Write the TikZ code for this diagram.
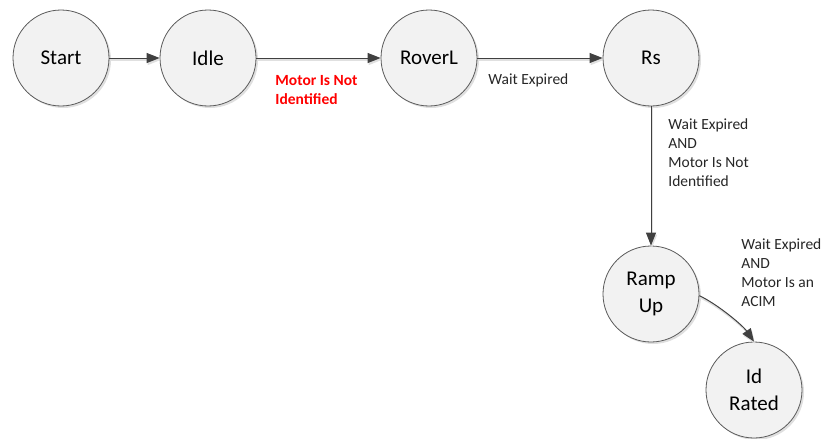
\documentclass[tikz,border=0pt]{standalone}
\usepackage{fontspec}
\setmainfont{Carlito}
\usetikzlibrary{arrows.meta,shadows}

\begin{document}
\begin{tikzpicture}[x=1pt, y=-1pt, thick,
  state/.style={circle, draw=black!65, line width=0.8pt, fill=black!5,
    minimum size=96pt, inner sep=0pt, align=center,
    font=\fontsize{21}{27}\selectfont,
    drop shadow={shadow xshift=2pt, shadow yshift=-2pt, opacity=0.25}},
  conn/.style={draw=black!75, line width=1pt, -{Triangle[length=13pt,width=10pt]},
    preaction={draw=black!12, line width=1.6pt, transform canvas={xshift=1pt, yshift=-2pt}}},
  lbl/.style={anchor=base west, inner sep=0pt, align=left,
    font=\fontsize{15.5}{19}\selectfont, text=black!85}]
  \useasboundingbox (0,0) rectangle (822,439);
  % states: one row, then down the right side
  \node[state] (Start)   at (61,58)   {Start};
  \node[state] (Idle)    at (208,58)  {Idle};
  \node[state] (RoverL)  at (429,58)  {RoverL};
  \node[state] (Rs)      at (651,58)  {Rs};
  \node[state] (RampUp)  at (651,294) {Ramp\\Up};
  \node[state] (IdRated) at (754,390) {Id\\Rated};
  % transitions
  \draw[conn] (Start) -- (Idle);
  \draw[conn] (Idle) -- (RoverL);
  \draw[conn] (RoverL) -- (Rs);
  \draw[conn] (Rs) -- (RampUp);
  \draw[conn] (RampUp.-2) .. controls +(18,8.5) and +(-11.5,-16.5) .. (IdRated.north);
  % conditions (base = last line)
  \node[lbl, text=red, font=\fontsize{15.5}{19}\selectfont\bfseries] (cIdle) at (275,104)
    {Motor Is Not\\Identified};
  \node[lbl] (cRoverL) at (488,84) {Wait Expired};
  \node[lbl] (cRs) at (668,186) {Wait Expired\\AND\\Motor Is Not\\Identified};
  \node[lbl] (cRamp) at (741,306) {Wait Expired\\AND\\Motor Is an\\ACIM};
\end{tikzpicture}
\end{document}
